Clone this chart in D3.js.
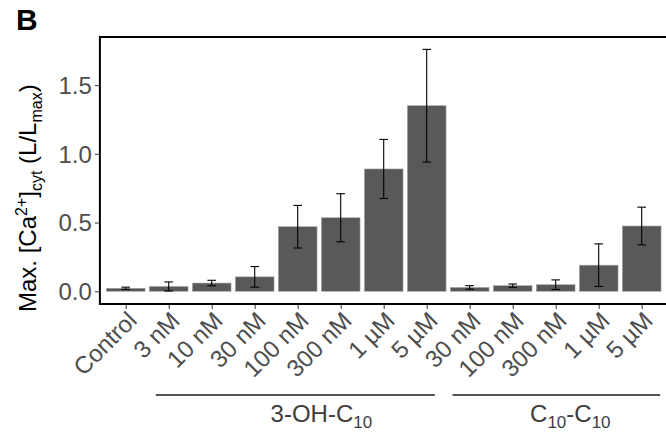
<!DOCTYPE html>
<meta charset="utf-8">
<script src="https://d3js.org/d3.v7.min.js"></script>
<style>
  body { margin: 0; background: #fff; }
  svg text { font-family: "Liberation Sans", Arial, sans-serif; }
</style>
<div id="chart"></div>
<script>
    // data
    const labels = ["Control", "3 nM", "10 nM", "30 nM", "100 nM", "300 nM", "1 µM", "5 µM",
                    "30 nM", "100 nM", "300 nM", "1 µM", "5 µM"];
    const means = [0.022, 0.035, 0.06, 0.105, 0.47, 0.535, 0.89, 1.35,
                   0.028, 0.041, 0.048, 0.19, 0.475];
    const errs = [0.008, 0.033, 0.02, 0.075, 0.155, 0.175, 0.215, 0.41,
                  0.013, 0.012, 0.035, 0.155, 0.137];
    const yTicks = [0, 0.5, 1.0, 1.5];
    // groups: first/last bar index, label
    const groups = [
        {from: 1, to: 7, name: "3-OH-C", sub: "10", after: ""},
        {from: 8, to: 12, name: "C", sub: "10", after: "-C", sub2: "10"}
    ];

    const W = 666, H = 432;
    const panel = {left: 99.9, right: 667.5, top: 37, bottom: 304};

    const svg = d3.select("#chart").append("svg")
        .attr("width", W).attr("height", H);

    const x = d3.scaleLinear()
        .domain([-0.6, labels.length - 0.4])
        .range([panel.left, panel.right]);
    const y = d3.scaleLinear()
        .domain([-0.0925, 1.85])
        .range([panel.bottom, panel.top]);
    const bw = (x(1) - x(0)) * 0.9;

    //bars
    svg.append("g").selectAll("rect")
        .data(means)
        .join("rect")
        .attr("x", (d, i) => x(i) - bw / 2)
        .attr("width", bw)
        .attr("y", d => y(d))
        .attr("height", d => y(0) - y(d))
        .attr("fill", "#595959")
        .attr("stroke", "#a8a8a8")
        .attr("stroke-width", 0.6);

    //error bars
    const eb = svg.append("g").attr("stroke", "#000").attr("stroke-width", 1.1);
    const cap = (x(1) - x(0)) * 0.2 / 2;
    means.forEach((m, i) => {
        const cx = x(i), hi = y(m + errs[i]), lo = y(m - errs[i]);
        eb.append("line").attr("x1", cx).attr("x2", cx).attr("y1", hi).attr("y2", lo);
        eb.append("line").attr("x1", cx - cap).attr("x2", cx + cap).attr("y1", hi).attr("y2", hi);
        eb.append("line").attr("x1", cx - cap).attr("x2", cx + cap).attr("y1", lo).attr("y2", lo);
    });

    //panel border
    svg.append("rect")
        .attr("x", panel.left).attr("y", panel.top)
        .attr("width", panel.right - panel.left).attr("height", panel.bottom - panel.top)
        .attr("fill", "none").attr("stroke", "#000").attr("stroke-width", 2);

    //y axis
    const yAxis = svg.append("g")
        .attr("transform", `translate(${panel.left - 1},0)`)
        .call(d3.axisLeft(y).tickValues(yTicks).tickFormat(d3.format(".1f")).tickSize(4).tickPadding(3));
    yAxis.select(".domain").remove();
    yAxis.selectAll("line").attr("stroke", "#333");
    yAxis.selectAll("text")
        .attr("fill", "#4d4d4d").style("font-size", "24px").attr("dy", "0.35em");

    //x axis
    const xAxis = svg.append("g")
        .attr("transform", `translate(0,${panel.bottom + 1})`)
        .call(d3.axisBottom(x).tickValues(d3.range(labels.length)).tickFormat(i => labels[i]).tickSize(4));
    xAxis.select(".domain").remove();
    xAxis.selectAll("line").attr("stroke", "#333");
    xAxis.selectAll("text")
        .attr("fill", "#4d4d4d").style("font-size", "24px")
        .attr("text-anchor", "end")
        .attr("y", 0).attr("dy", 0)
        .attr("transform", d => `translate(12,17) rotate(-45)`);

    //y title
    const yt = svg.append("text")
        .attr("transform", "translate(36,312) rotate(-90)")
        .attr("fill", "#000").style("font-size", "24px");
    yt.append("tspan").text("Max. [Ca");
    yt.append("tspan").attr("dy", -9).style("font-size", "16px").text("2+");
    yt.append("tspan").attr("dy", 9).text("]");
    yt.append("tspan").attr("dy", 6).style("font-size", "16px").text("cyt");
    yt.append("tspan").attr("dy", -6).text(" (L/L");
    yt.append("tspan").attr("dy", 6).style("font-size", "16px").text("max");
    yt.append("tspan").attr("dy", -6).text(")");

    //group lines and labels
    const gl = svg.append("g");
    const lineSpan = [[0.7, 7.19], [7.6, 12.43]];
    const labelPos = [4.55, 10.34];
    groups.forEach((g, k) => {
        gl.append("line")
            .attr("x1", x(lineSpan[k][0])).attr("x2", x(lineSpan[k][1]))
            .attr("y1", 395).attr("y2", 395)
            .attr("stroke", "#1a1a1a").attr("stroke-width", 1.5);
        const t = gl.append("text")
            .attr("x", x(labelPos[k])).attr("y", 422)
            .attr("text-anchor", "middle")
            .attr("fill", "#3d3d3d").style("font-size", "24px");
        t.append("tspan").text(g.name);
        t.append("tspan").attr("dy", 6).style("font-size", "17px").text(g.sub);
        if (g.sub2) {
            t.append("tspan").attr("dy", -6).text(g.after);
            t.append("tspan").attr("dy", 6).style("font-size", "17px").text(g.sub2);
        }
    });

    //panel tag
    svg.append("text")
        .attr("x", 16).attr("y", 30)
        .style("font-size", "30px").style("font-weight", "bold")
        .attr("fill", "#000").text("B");
</script>
